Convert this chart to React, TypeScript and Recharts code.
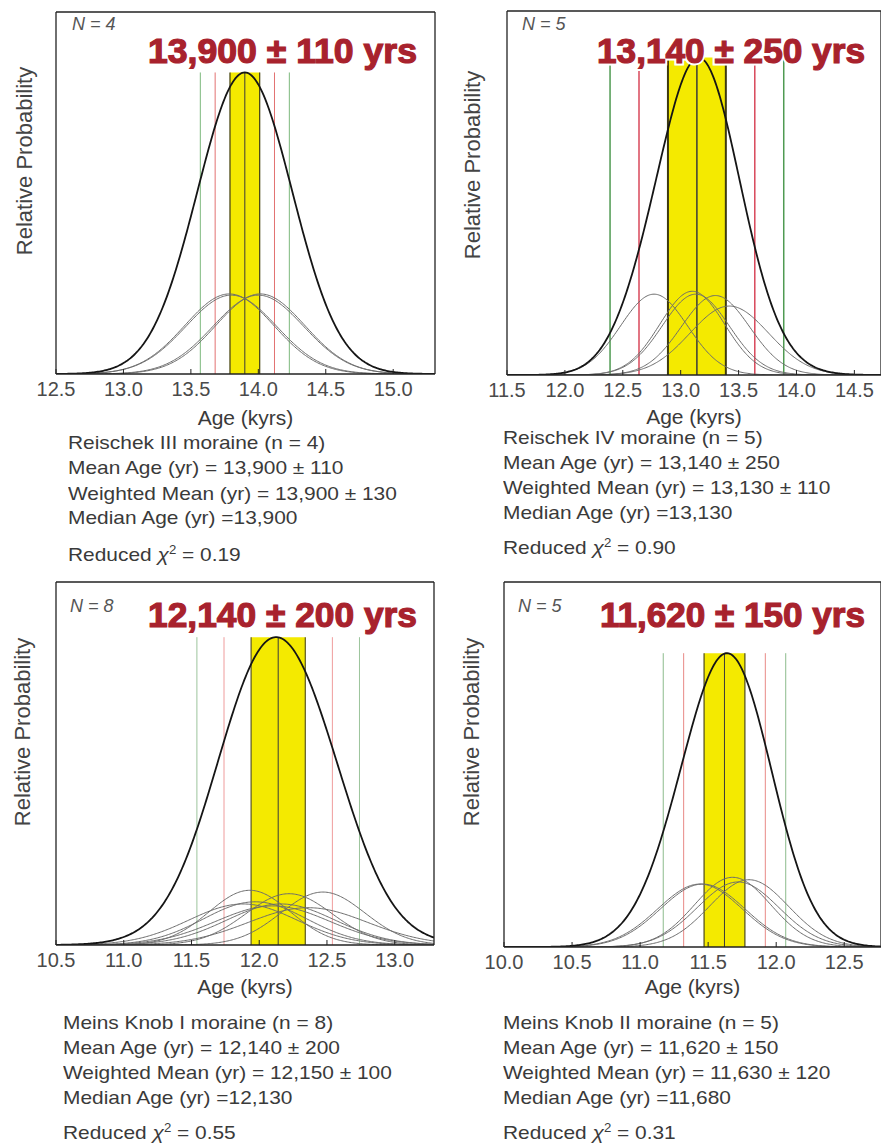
import React from 'react';
import { LineChart, Line, XAxis, YAxis, ReferenceArea, ReferenceLine } from 'recharts';

const FONT = '"Liberation Sans", Arial, Helvetica, sans-serif';

// individual boulder ages (kyr) and 1 sigma errors
const reischekIIIAges = [13.785, 13.8, 14.0, 14.015];
const reischekIIIErrors = [0.33, 0.335, 0.335, 0.33];
const reischekIVAges = [12.77, 13.1, 13.13, 13.3, 13.42];
const reischekIVErrors = [0.29, 0.28, 0.29, 0.295, 0.34];
const meinsKnobIAges = [11.88, 11.93, 11.97, 12.1, 12.16, 12.22, 12.36, 12.47];
const meinsKnobIErrors = [0.4, 0.3, 0.38, 0.42, 0.4, 0.32, 0.44, 0.31];
const meinsKnobIIAges = [11.44, 11.46, 11.68, 11.72, 11.8];
const meinsKnobIIErrors = [0.31, 0.31, 0.28, 0.3, 0.29];

// landform mean age and standard deviation (kyr)
const meanAges = [13.9, 13.14, 12.14, 11.62];
const stdDevs = [0.11, 0.25, 0.2, 0.15];

const xDomains = [
  [12.5, 15.31],
  [11.5, 14.73],
  [10.5, 13.29],
  [10.0, 12.77],
];
const xTicks = [
  [12.5, 13.0, 13.5, 14.0, 14.5, 15.0],
  [11.5, 12.0, 12.5, 13.0, 13.5, 14.0, 14.5],
  [10.5, 11.0, 11.5, 12.0, 12.5, 13.0],
  [10.0, 10.5, 11.0, 11.5, 12.0, 12.5],
];

const titles = ['13,900 ± 110 yrs', '13,140 ± 250 yrs', '12,140 ± 200 yrs', '11,620 ± 150 yrs'];
const sampleCounts = [4, 5, 8, 5];
const captions = [
  ['Reischek III moraine (n = 4)', 'Mean Age (yr) = 13,900 ± 110', 'Weighted Mean (yr) = 13,900 ± 130', 'Median Age (yr) =13,900'],
  ['Reischek IV moraine (n = 5)', 'Mean Age (yr) = 13,140 ± 250', 'Weighted Mean (yr) = 13,130 ± 110', 'Median Age (yr) =13,130'],
  ['Meins Knob I moraine (n = 8)', 'Mean Age (yr) = 12,140 ± 200', 'Weighted Mean (yr) = 12,150 ± 100', 'Median Age (yr) =12,130'],
  ['Meins Knob II moraine (n = 5)', 'Mean Age (yr) = 11,620 ± 150', 'Weighted Mean (yr) = 11,630 ± 120', 'Median Age (yr) =11,680'],
];
const reducedChi2 = ['0.19', '0.90', '0.55', '0.31'];

const sampleAges = [reischekIIIAges, reischekIVAges, meinsKnobIAges, meinsKnobIIAges];
const sampleErrors = [reischekIIIErrors, reischekIVErrors, meinsKnobIErrors, meinsKnobIIErrors];

// page layout of each panel (pixels)
const layouts = [
  { fx: 57, fy: 13, fw: 377, fh: 361, peakFrac: 0.833, titleX: 148, titleW: 269, titleBase: 63, nX: 72, nBase: 30, ylx: 25, yly: 161, ageY: 418, capX: 68, capY: [443, 468, 494, 518, 550] },
  { fx: 508, fy: 12, fw: 372, fh: 363, peakFrac: 0.872, titleX: 597, titleW: 268, titleBase: 63, nX: 522, nBase: 30, ylx: 473, yly: 165, ageY: 417, capX: 503, capY: [438, 463, 488, 513, 543] },
  { fx: 57, fy: 583, fw: 376, fh: 362, peakFrac: 0.848, titleX: 148, titleW: 269, titleBase: 627, nX: 70, nBase: 612, ylx: 23, yly: 732, ageY: 987, capX: 63, capY: [1023, 1048, 1073, 1098, 1128] },
  { fx: 505, fy: 583, fw: 375, fh: 364, peakFrac: 0.805, titleX: 600, titleW: 265, titleBase: 627, nX: 518, nBase: 612, ylx: 472, yly: 732, ageY: 987, capX: 503, capY: [1023, 1048, 1073, 1098, 1128] },
];

const lineStyles = [
  { red: '#e27272', green: '#7cb87c', edge: '#4d4a18', w: 1, edgeW: 1.3 },
  { red: '#d8475a', green: '#4f9a52', edge: '#3d3a10', w: 1.5, edgeW: 2 },
  { red: '#ef9c9c', green: '#9cc49c', edge: '#5a5620', w: 1, edgeW: 1.2 },
  { red: '#e88a86', green: '#8cbc8c', edge: '#4d4a18', w: 1, edgeW: 1.2 },
];

const gauss = (x: number, mu: number, s: number) =>
  Math.exp(-((x - mu) * (x - mu)) / (2 * s * s)) / (s * Math.sqrt(2 * Math.PI));

function buildRows(i: number) {
  const ages = sampleAges[i];
  const errs = sampleErrors[i];
  const [x0, x1] = xDomains[i];
  const rows: any[] = [];
  for (let k = 0; ; k++) {
    const x = +(x0 + k * 0.01).toFixed(3);
    if (x > x1 + 1e-9) break;
    const row: any = { x };
    let sum = 0;
    ages.forEach((a, j) => {
      const v = gauss(x, a, errs[j]);
      row['s' + j] = v;
      sum += v;
    });
    row.sum = sum;
    rows.push(row);
  }
  return rows;
}

const BottomTick = (props: any) => {
  const { x, y, payload } = props;
  return (
    <g>
      <line x1={x} y1={y} x2={x} y2={y - 5} stroke="#222" strokeWidth={1} />
      <text x={x} y={y + 22} textAnchor="middle" fontSize={20} fill="#4a4a4a" fontFamily={FONT}>
        {Number(payload.value).toFixed(1)}
      </text>
    </g>
  );
};

function Panel({ i }: { i: number }) {
  const L = layouts[i];
  const st = lineStyles[i];
  const rows = buildRows(i);
  const peak = Math.max(...rows.map((r) => r.sum));
  const yMax = peak / L.peakFrac;
  const yStep = yMax * 0.1505;
  const yTicks = [1, 2, 3, 4, 5, 6].map((k) => k * yStep);
  const m = meanAges[i];
  const sd = stdDevs[i];
  // axes take 1px each, so the plot area lands on the frame
  const margin = { top: 3, right: 24, bottom: 29, left: 24 };
  const seg = (xv: number) => [
    { x: xv, y: 0 },
    { x: xv, y: peak },
  ];
  const axisStroke = { stroke: '#222', strokeWidth: 1.3 };

  return (
    <div style={{ position: 'absolute', left: L.fx - 25, top: L.fy - 4 }}>
      <LineChart width={L.fw + 50} height={L.fh + 34} data={rows} margin={margin}>
        <XAxis
          dataKey="x"
          type="number"
          domain={xDomains[i]}
          ticks={xTicks[i]}
          interval={0}
          allowDataOverflow
          height={1}
          tickSize={0}
          tickMargin={0}
          tickLine={false}
          axisLine={axisStroke}
          tick={<BottomTick />}
        />
        <XAxis
          xAxisId="top"
          orientation="top"
          type="number"
          domain={xDomains[i]}
          ticks={xTicks[i]}
          interval={0}
          allowDataOverflow
          height={1}
          mirror
          tick={false}
          tickSize={5}
          tickLine={{ stroke: '#222' }}
          axisLine={axisStroke}
        />
        <YAxis type="number" domain={[0, yMax]} ticks={yTicks} interval={0} allowDataOverflow width={1} mirror tick={false} tickSize={5} tickLine={{ stroke: '#222' }} axisLine={axisStroke} />
        <YAxis yAxisId="right" orientation="right" type="number" domain={[0, yMax]} ticks={yTicks} interval={0} allowDataOverflow width={1} mirror tick={false} tickSize={5} tickLine={{ stroke: '#222' }} axisLine={axisStroke} />

        <ReferenceArea x1={m - sd} x2={m + sd} y1={0} y2={peak} fill="#f4ea00" fillOpacity={1} stroke="none" />
        <ReferenceLine segment={seg(m - 3 * sd)} stroke={st.green} strokeWidth={st.w} />
        <ReferenceLine segment={seg(m + 3 * sd)} stroke={st.green} strokeWidth={st.w} />
        <ReferenceLine segment={seg(m - 2 * sd)} stroke={st.red} strokeWidth={st.w} />
        <ReferenceLine segment={seg(m + 2 * sd)} stroke={st.red} strokeWidth={st.w} />
        <ReferenceLine segment={seg(m - sd)} stroke={st.edge} strokeWidth={st.edgeW} />
        <ReferenceLine segment={seg(m + sd)} stroke={st.edge} strokeWidth={st.edgeW} />
        <ReferenceLine segment={seg(m)} stroke="#3a3a3a" strokeWidth={st.w} />

        {sampleAges[i].map((_, j) => (
          <Line key={j} type="linear" dataKey={'s' + j} stroke="#6c6c6c" strokeWidth={1} dot={false} activeDot={false} isAnimationActive={false} />
        ))}
        <Line type="linear" dataKey="sum" stroke="#151515" strokeWidth={1.8} dot={false} activeDot={false} isAnimationActive={false} />
      </LineChart>
    </div>
  );
}

function PanelText({ i }: { i: number }) {
  const L = layouts[i];
  const capStyle: React.CSSProperties = {
    position: 'absolute',
    left: L.capX,
    fontSize: 19,
    lineHeight: '20px',
    color: '#3a3a3a',
    whiteSpace: 'nowrap',
    transform: 'scaleX(1.1)',
    transformOrigin: 'left center',
  };
  return (
    <>
      <svg style={{ position: 'absolute', left: L.titleX - 8, top: L.titleBase - 46 }} width={L.titleW + 16} height={62}>
        <text x={8} y={46} textLength={L.titleW} lengthAdjust="spacingAndGlyphs" fontSize={35} fontWeight="bold" fontFamily={FONT} fill="#ffffff" stroke="#ffffff" strokeWidth={5}>
          {titles[i]}
        </text>
        <text x={8} y={46} textLength={L.titleW} lengthAdjust="spacingAndGlyphs" fontSize={35} fontWeight="bold" fontFamily={FONT} fill="#a8222d" stroke="#a8222d" strokeWidth={1.2}>
          {titles[i]}
        </text>
      </svg>
      <div style={{ position: 'absolute', left: L.nX, top: L.nBase - 15, fontSize: 18, fontStyle: 'italic', color: '#555', whiteSpace: 'nowrap', lineHeight: '18px' }}>
        N = {sampleCounts[i]}
      </div>
      <div
        style={{
          position: 'absolute',
          left: L.ylx,
          top: L.yly,
          transform: 'translate(-50%, -50%) rotate(-90deg)',
          fontSize: 22,
          color: '#444',
          whiteSpace: 'nowrap',
          lineHeight: '22px',
        }}
      >
        Relative Probability
      </div>
      <div
        style={{
          position: 'absolute',
          left: L.fx + L.fw / 2,
          top: L.ageY,
          transform: 'translate(-50%, -50%)',
          fontSize: 21,
          color: '#3a3a3a',
          whiteSpace: 'nowrap',
          lineHeight: '22px',
        }}
      >
        Age (kyrs)
      </div>
      {captions[i].map((c, k) => (
        <div key={k} style={{ ...capStyle, top: L.capY[k] - 10 }}>
          {c}
        </div>
      ))}
      <div style={{ ...capStyle, top: L.capY[4] - 10 }}>
        Reduced <span style={{ fontStyle: 'italic' }}>χ</span>
        <sup style={{ fontSize: 12 }}>2</sup> = {reducedChi2[i]}
      </div>
    </>
  );
}

export default function App() {
  return (
    <div style={{ position: 'absolute', left: 0, top: 0, width: 881, height: 1144, overflow: 'hidden', background: '#fff', fontFamily: FONT }}>
      {[0, 1, 2, 3].map((i) => (
        <Panel key={i} i={i} />
      ))}
      {[0, 1, 2, 3].map((i) => (
        <PanelText key={'t' + i} i={i} />
      ))}
    </div>
  );
}
